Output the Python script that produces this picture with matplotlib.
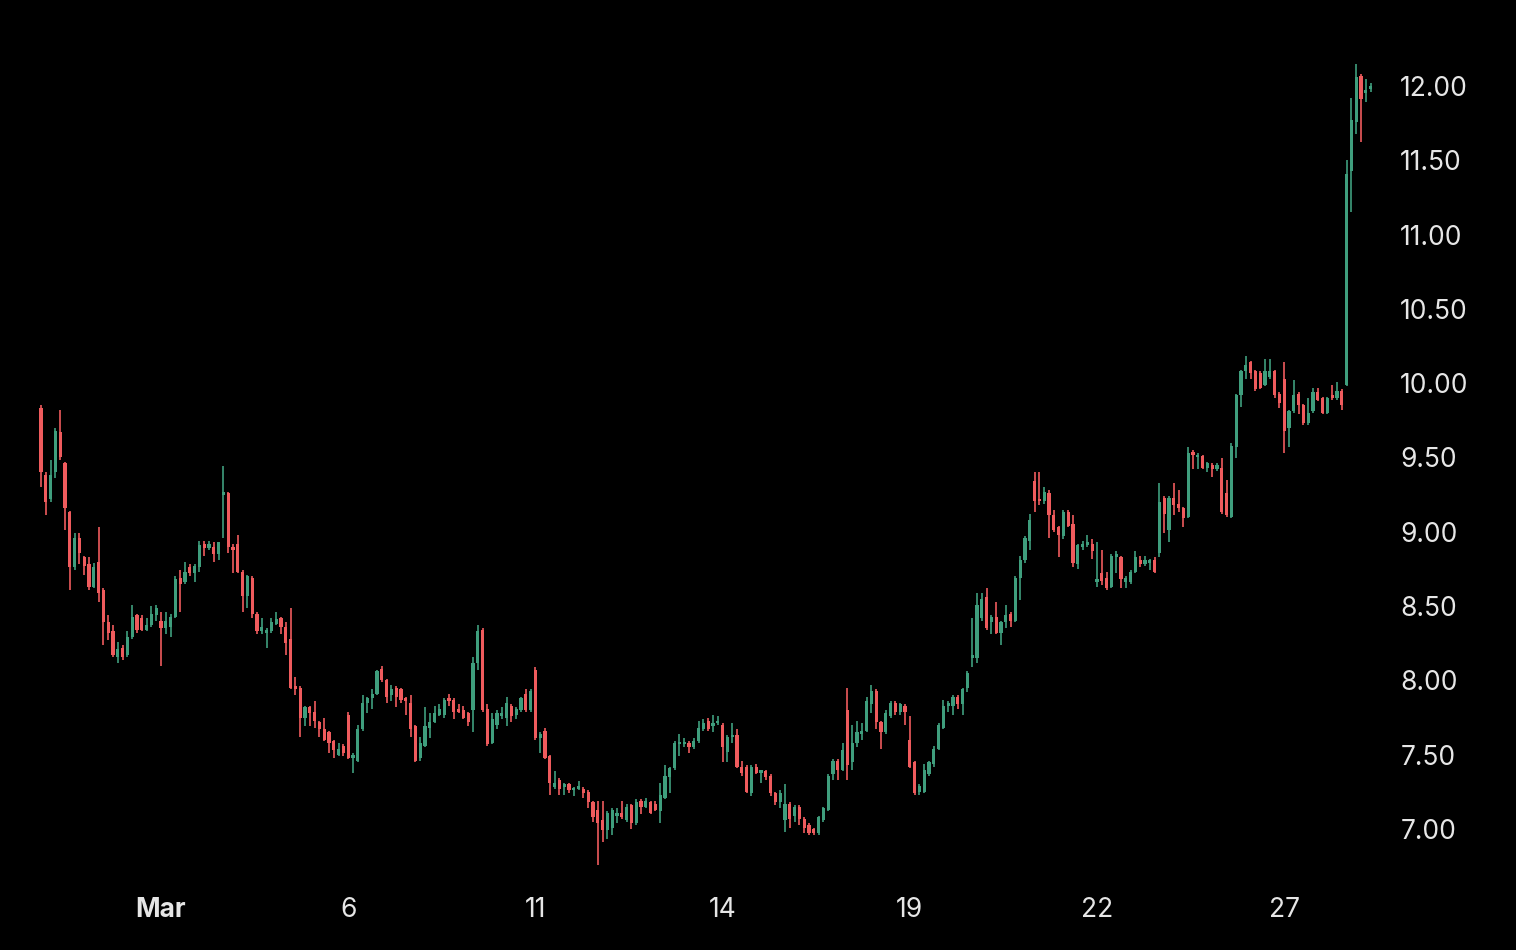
import numpy as np
import matplotlib
matplotlib.use("Agg")
import matplotlib.pyplot as plt

# 30-minute candles, Feb 28 -> Mar 28 (one trading day per row)
opens = [
    9.83, 9.38, 9.22, 9.40, 9.67, 9.46, 9.13, 8.76, 8.96, 8.83, 8.78, 8.63,
    8.80, 8.61, 8.39, 8.33, 8.16, 8.22, 8.17, 8.29, 8.44, 8.42, 8.34, 8.37, 8.44,
    8.40, 8.35, 8.36, 8.43, 8.69, 8.66, 8.76, 8.72, 8.76, 8.92, 8.89, 8.90, 8.85,
    9.25, 9.26, 8.90, 8.92, 8.73, 8.57, 8.69, 8.45, 8.33, 8.32, 8.33, 8.38, 8.42,
    8.36, 8.28, 7.96, 7.95, 7.75, 7.82, 7.79, 7.72, 7.67, 7.65, 7.59, 7.50, 7.56,
    7.77, 7.48, 7.46, 7.67, 7.85, 7.88, 7.91, 8.08, 8.00, 7.90, 7.95, 7.94, 7.88,
    7.85, 7.69, 7.48, 7.56, 7.68, 7.72, 7.77, 7.77, 7.88, 7.87, 7.81, 7.80, 7.78,
    7.80, 8.12, 8.34, 7.81, 7.58, 7.70, 7.76, 7.75, 7.83, 7.77, 7.80, 7.91, 7.80,
    8.07, 7.61, 7.66, 7.49, 7.28, 7.33, 7.28, 7.30, 7.26, 7.27, 7.27, 7.25, 7.18,
    7.13, 7.06, 6.99, 7.01, 7.09, 7.11, 7.06, 7.16, 7.04, 7.19, 7.15, 7.18, 7.17,
    7.12, 7.21, 7.35, 7.41, 7.57, 7.57, 7.58, 7.55, 7.59, 7.67, 7.73, 7.69, 7.71,
    7.70, 7.52, 7.62, 7.63, 7.42, 7.42, 7.24, 7.42, 7.38, 7.39, 7.36, 7.24, 7.18,
    7.06, 7.17, 7.09, 7.15, 7.07, 7.03, 7.00, 6.97, 7.06, 7.13, 7.37, 7.46, 7.40,
    7.80, 7.45, 7.58, 7.64, 7.66, 7.84, 7.93, 7.72, 7.65, 7.76, 7.85, 7.79, 7.83,
    7.60, 7.45, 7.25, 7.25, 7.37, 7.44, 7.54, 7.68, 7.83, 7.83, 7.89, 7.84, 7.95,
    8.15, 8.15, 8.42, 8.56, 8.39, 8.43, 8.32, 8.39, 8.45, 8.40, 8.69, 8.81, 8.94,
    9.34, 9.22, 9.21, 9.26, 9.11, 9.03, 8.97, 9.13, 9.05, 8.78, 8.90, 8.91, 8.92,
    8.66, 8.72, 8.69, 8.63, 8.83, 8.83, 8.66, 8.66, 8.73, 8.81, 8.78, 8.79, 8.81,
    8.86, 9.23, 9.01, 9.23, 9.19, 9.16, 9.10, 9.54, 9.50, 9.51, 9.43, 9.45, 9.42,
    9.43, 9.26, 9.10, 9.57, 9.92, 10.08, 10.14, 10.08, 10.07, 9.99, 10.04, 10.08, 9.93,
    10.03, 9.70, 9.81, 9.93, 9.85, 9.73, 9.81, 9.94, 9.90, 9.80, 9.92, 9.90, 9.95,
    9.99, 11.43, 11.76, 12.07, 11.95, 11.98,
]
highs = [
    9.85, 9.40, 9.48, 9.70, 9.82, 9.47, 9.14, 8.99, 8.99, 8.84, 8.83, 8.79,
    9.03, 8.62, 8.44, 8.37, 8.26, 8.24, 8.33, 8.51, 8.45, 8.44, 8.42, 8.50, 8.51,
    8.46, 8.46, 8.45, 8.70, 8.74, 8.80, 8.78, 8.78, 8.94, 8.94, 8.94, 8.93, 8.93,
    9.44, 9.27, 8.92, 8.98, 8.74, 8.71, 8.70, 8.46, 8.42, 8.35, 8.42, 8.46, 8.43,
    8.39, 8.49, 8.02, 7.96, 7.83, 7.83, 7.86, 7.73, 7.75, 7.66, 7.60, 7.58, 7.57,
    7.79, 7.51, 7.70, 7.90, 7.89, 7.94, 8.07, 8.10, 8.01, 7.97, 7.96, 7.95, 7.89,
    7.90, 7.70, 7.62, 7.82, 7.78, 7.83, 7.84, 7.88, 7.91, 7.88, 7.84, 7.83, 7.79,
    8.16, 8.37, 8.35, 7.84, 7.78, 7.80, 7.82, 7.89, 7.84, 7.82, 7.89, 7.94, 7.94,
    8.09, 7.65, 7.68, 7.50, 7.39, 7.34, 7.31, 7.31, 7.28, 7.32, 7.28, 7.26, 7.19,
    7.19, 7.19, 7.12, 7.14, 7.14, 7.19, 7.17, 7.17, 7.20, 7.20, 7.21, 7.19, 7.19,
    7.31, 7.43, 7.42, 7.59, 7.64, 7.61, 7.59, 7.61, 7.73, 7.74, 7.75, 7.77, 7.76,
    7.71, 7.63, 7.71, 7.67, 7.46, 7.43, 7.43, 7.44, 7.40, 7.40, 7.37, 7.25, 7.26,
    7.30, 7.18, 7.16, 7.16, 7.08, 7.04, 7.01, 7.09, 7.15, 7.37, 7.47, 7.47, 7.58,
    7.95, 7.70, 7.73, 7.71, 7.89, 7.97, 7.94, 7.73, 7.80, 7.86, 7.86, 7.85, 7.84,
    7.76, 7.46, 7.30, 7.44, 7.46, 7.56, 7.71, 7.87, 7.86, 7.90, 7.90, 7.95, 8.06,
    8.42, 8.59, 8.59, 8.62, 8.44, 8.53, 8.40, 8.51, 8.46, 8.70, 8.84, 8.97, 9.12,
    9.40, 9.40, 9.30, 9.28, 9.15, 9.04, 9.15, 9.15, 9.11, 8.92, 8.94, 8.98, 8.95,
    8.93, 8.88, 8.73, 8.85, 8.87, 8.84, 8.70, 8.74, 8.87, 8.84, 8.84, 8.82, 8.83,
    9.33, 9.24, 9.24, 9.33, 9.28, 9.17, 9.57, 9.55, 9.53, 9.52, 9.47, 9.46, 9.46,
    9.50, 9.35, 9.60, 9.93, 10.09, 10.18, 10.15, 10.09, 10.08, 10.16, 10.16, 10.09, 9.94,
    10.14, 9.82, 10.02, 9.94, 9.86, 9.90, 9.97, 9.97, 9.91, 9.91, 9.99, 10.01, 9.96,
    11.50, 11.92, 12.15, 12.08, 12.05, 12.02,
]
lows = [
    9.30, 9.11, 9.20, 9.36, 9.48, 9.01, 8.61, 8.74, 8.78, 8.71, 8.61, 8.62,
    8.53, 8.24, 8.27, 8.16, 8.12, 8.14, 8.16, 8.28, 8.32, 8.33, 8.33, 8.36, 8.40,
    8.10, 8.31, 8.29, 8.42, 8.46, 8.65, 8.70, 8.66, 8.73, 8.84, 8.88, 8.80, 8.81,
    8.96, 8.86, 8.72, 8.72, 8.46, 8.49, 8.42, 8.31, 8.31, 8.22, 8.32, 8.37, 8.31,
    8.17, 7.94, 7.90, 7.62, 7.69, 7.69, 7.68, 7.62, 7.59, 7.51, 7.48, 7.49, 7.49,
    7.47, 7.38, 7.45, 7.66, 7.78, 7.81, 7.90, 7.99, 7.85, 7.86, 7.82, 7.85, 7.77,
    7.62, 7.45, 7.46, 7.55, 7.61, 7.71, 7.76, 7.75, 7.83, 7.74, 7.78, 7.74, 7.69,
    7.65, 8.07, 7.79, 7.56, 7.57, 7.67, 7.74, 7.69, 7.72, 7.74, 7.79, 7.79, 7.79,
    7.60, 7.51, 7.47, 7.23, 7.27, 7.23, 7.23, 7.24, 7.22, 7.26, 7.21, 7.14, 7.05,
    6.76, 6.91, 6.93, 6.96, 7.04, 7.07, 7.05, 7.00, 7.03, 7.10, 7.14, 7.10, 7.12,
    7.04, 7.20, 7.24, 7.40, 7.49, 7.55, 7.51, 7.54, 7.58, 7.66, 7.66, 7.65, 7.70,
    7.45, 7.45, 7.58, 7.41, 7.36, 7.24, 7.22, 7.37, 7.31, 7.33, 7.22, 7.16, 7.14,
    6.98, 7.01, 7.05, 7.03, 6.97, 6.96, 6.96, 6.96, 7.05, 7.12, 7.33, 7.33, 7.39,
    7.33, 7.40, 7.55, 7.60, 7.65, 7.78, 7.67, 7.54, 7.64, 7.75, 7.77, 7.77, 7.70,
    7.41, 7.23, 7.23, 7.24, 7.36, 7.42, 7.53, 7.67, 7.79, 7.77, 7.81, 7.77, 7.92,
    8.09, 8.12, 8.40, 8.34, 8.31, 8.31, 8.24, 8.35, 8.36, 8.39, 8.54, 8.79, 8.88,
    9.13, 9.18, 9.19, 8.96, 9.00, 8.83, 8.95, 9.03, 8.76, 8.75, 8.88, 8.90, 8.82,
    8.63, 8.64, 8.61, 8.62, 8.72, 8.62, 8.62, 8.65, 8.72, 8.76, 8.77, 8.74, 8.72,
    8.83, 8.99, 8.93, 9.11, 9.13, 9.03, 9.09, 9.42, 9.42, 9.42, 9.40, 9.37, 9.41,
    9.12, 9.10, 9.09, 9.50, 9.84, 10.03, 10.03, 9.95, 9.96, 9.98, 10.03, 9.90, 9.83,
    9.53, 9.57, 9.80, 9.79, 9.72, 9.72, 9.80, 9.88, 9.79, 9.79, 9.89, 9.89, 9.82,
    9.98, 11.15, 11.68, 11.62, 11.89, 11.96,
]
closes = [
    9.40, 9.20, 9.38, 9.68, 9.50, 9.16, 8.76, 8.96, 8.86, 8.77, 8.63, 8.76,
    8.59, 8.39, 8.32, 8.17, 8.21, 8.16, 8.29, 8.43, 8.34, 8.34, 8.37, 8.45, 8.49,
    8.35, 8.40, 8.43, 8.68, 8.65, 8.73, 8.72, 8.77, 8.91, 8.89, 8.92, 8.85, 8.93,
    9.27, 8.90, 8.88, 8.73, 8.57, 8.70, 8.45, 8.33, 8.36, 8.34, 8.39, 8.41, 8.36,
    8.25, 7.95, 7.94, 7.75, 7.82, 7.78, 7.73, 7.67, 7.60, 7.58, 7.53, 7.54, 7.51,
    7.48, 7.50, 7.67, 7.85, 7.88, 7.91, 8.06, 8.00, 7.89, 7.94, 7.89, 7.87, 7.86,
    7.67, 7.46, 7.58, 7.69, 7.72, 7.78, 7.81, 7.87, 7.86, 7.79, 7.79, 7.75, 7.72,
    8.12, 8.33, 7.80, 7.57, 7.74, 7.78, 7.78, 7.85, 7.76, 7.81, 7.88, 7.80, 7.93,
    7.61, 7.64, 7.48, 7.31, 7.31, 7.27, 7.30, 7.26, 7.27, 7.29, 7.24, 7.18, 7.08,
    7.04, 6.99, 7.11, 7.13, 7.11, 7.08, 7.15, 7.04, 7.18, 7.15, 7.19, 7.11, 7.13,
    7.23, 7.36, 7.41, 7.58, 7.58, 7.58, 7.55, 7.59, 7.68, 7.71, 7.67, 7.71, 7.73,
    7.55, 7.62, 7.63, 7.42, 7.38, 7.25, 7.42, 7.38, 7.39, 7.35, 7.24, 7.18, 7.24,
    7.17, 7.07, 7.15, 7.07, 7.01, 6.97, 6.97, 7.08, 7.14, 7.36, 7.46, 7.40, 7.53,
    7.43, 7.58, 7.65, 7.66, 7.86, 7.93, 7.72, 7.65, 7.78, 7.85, 7.79, 7.84, 7.79,
    7.42, 7.24, 7.29, 7.40, 7.45, 7.54, 7.70, 7.83, 7.85, 7.89, 7.84, 7.94, 8.05,
    8.17, 8.51, 8.55, 8.35, 8.43, 8.32, 8.39, 8.44, 8.40, 8.69, 8.81, 8.96, 9.08,
    9.21, 9.21, 9.27, 9.11, 9.01, 8.98, 9.13, 9.04, 8.79, 8.91, 8.92, 8.93, 8.87,
    8.68, 8.67, 8.62, 8.84, 8.85, 8.68, 8.69, 8.73, 8.83, 8.78, 8.81, 8.81, 8.73,
    9.20, 9.12, 9.23, 9.18, 9.16, 9.09, 9.53, 9.52, 9.51, 9.43, 9.46, 9.42, 9.45,
    9.13, 9.11, 9.58, 9.92, 10.08, 10.12, 10.07, 9.96, 9.97, 10.08, 10.08, 9.92, 9.87,
    9.68, 9.81, 9.92, 9.85, 9.73, 9.80, 9.94, 9.89, 9.80, 9.90, 9.90, 9.95, 9.85,
    11.41, 11.77, 12.06, 11.91, 11.97, 12.00,
]

# first candle of each labelled day
day_labels = ["Mar", "6", "11", "14", "19", "22", "27"]
day_index = [25, 64, 103, 142, 181, 220, 259]
price_ticks = [7.0, 7.5, 8.0, 8.5, 9.0, 9.5, 10.0, 10.5, 11.0, 11.5, 12.0]

GREEN = "#3f9e7d"
RED = "#ef5b5d"
BG = "black"

o = np.array(opens)
h = np.array(highs)
l = np.array(lows)
c = np.array(closes)
x = np.arange(len(o))

fig = plt.figure(figsize=(15.16, 9.5), dpi=100, facecolor=BG)
# axes in pixels: left 0, right 1385, top 40, bottom 875
ax = fig.add_axes([0, 75 / 950, 1385 / 1516, 835 / 950])
ax.set_facecolor(BG)

up = c >= o
colors = np.where(up, GREEN, RED)

ax.vlines(x, l, h, colors=colors, linewidth=1.2)
bottom = np.minimum(o, c)
height = np.maximum(np.abs(c - o), 0.014)
ax.bar(x, height, bottom=bottom, width=0.7, color=colors, linewidth=0)

ax.set_xlim(-41 / 4.8, (1385 - 41) / 4.8)
ax.set_ylim(12 - (875 - 86) / 148.6, 12 + 46 / 148.6)

for s in ax.spines.values():
    s.set_visible(False)

ax.yaxis.tick_right()
ax.set_yticks(price_ticks)
ax.set_yticklabels(["%.2f" % p for p in price_ticks])
ax.tick_params(axis="y", length=0, pad=11, labelsize=19, labelcolor="#e6e6e6")

ax.set_xticks(day_index)
ax.set_xticklabels(day_labels)
ax.tick_params(axis="x", length=0, pad=16, labelsize=19, labelcolor="#e6e6e6")
for t in ax.get_xticklabels() + ax.get_yticklabels():
    t.set_family(["Inter", "DejaVu Sans"])
ax.get_xticklabels()[0].set_fontweight("bold")

fig.savefig("out.png", dpi=100, facecolor=BG)
